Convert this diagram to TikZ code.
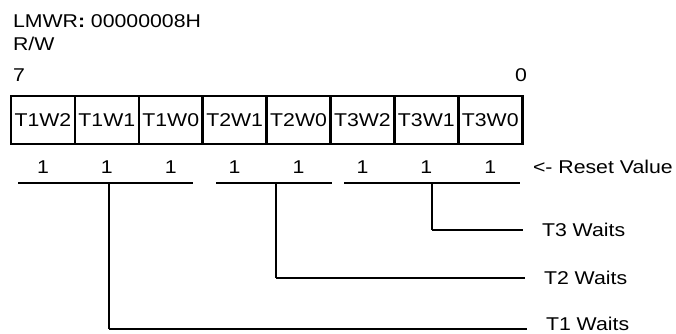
\documentclass[tikz,border=0pt]{standalone}
\usepackage{fontspec}
\setmainfont{Liberation Sans}
\usetikzlibrary{positioning}
\newcommand{\stretched}[1]{\scalebox{1.15}[1]{#1}}

\begin{document}
\begin{tikzpicture}[x=1pt,y=-1pt,
    lbl/.style={font=\fontsize{18.5}{21}\selectfont, inner sep=0pt, outer sep=0pt},
    cell/.style={lbl, draw, line width=2.6pt, minimum width=63.9pt, minimum height=48pt, anchor=west},
    rst/.style={lbl, below=29pt of #1, anchor=base},
    wait/.style={lbl, anchor=west, inner xsep=19pt},
    bar/.style={line width=2pt},
    tick/.style={line width=1.3pt}]
    \useasboundingbox (0,0) rectangle (676,333);

    \node[lbl, anchor=base west] (reg) at (13,27) {\stretched{LMWR\textbf{:} 00000008H}};
    \node[lbl, anchor=base west] (acc) at (13,50) {\stretched{R/W}};
    \node[lbl, anchor=base west] (b7) at (13,81) {\stretched{7}};
    \node[lbl, anchor=base] (b0) at (521,81) {\stretched{0}};

    \node[cell] (c7) at (11,120) {\stretched{T1W2}};
    \node[cell, right=0pt of c7] (c6) {\stretched{T1W1}};
    \node[cell, right=0pt of c6] (c5) {\stretched{T1W0}};
    \node[cell, right=0pt of c5] (c4) {\stretched{T2W1}};
    \node[cell, right=0pt of c4] (c3) {\stretched{T2W0}};
    \node[cell, right=0pt of c3] (c2) {\stretched{T3W2}};
    \node[cell, right=0pt of c2] (c1) {\stretched{T3W1}};
    \node[cell, right=0pt of c1] (c0) {\stretched{T3W0}};

    \node[rst=c7] (r7) {\stretched{1}};
    \node[rst=c6] (r6) {\stretched{1}};
    \node[rst=c5] (r5) {\stretched{1}};
    \node[rst=c4] (r4) {\stretched{1}};
    \node[rst=c3] (r3) {\stretched{1}};
    \node[rst=c2] (r2) {\stretched{1}};
    \node[rst=c1] (r1) {\stretched{1}};
    \node[rst=c0] (r0) {\stretched{1}};
    \node[lbl, anchor=base west] (rv) at (533,173) {\stretched{<- Reset Value}};

    \coordinate (g1a) at (18,183);
    \coordinate (g1b) at (193,183);
    \coordinate (g2a) at (216,183);
    \coordinate (g2b) at (332,183);
    \coordinate (g3a) at (344,183);
    \coordinate (g3b) at (520,183);
    \draw[bar] (g1a) -- (g1b);
    \draw[bar] (g2a) -- (g2b);
    \draw[bar] (g3a) -- (g3b);

    \coordinate (v1) at (109,183);
    \coordinate (v2) at (276,183);
    \coordinate (v3) at (432,183);

    \node[wait] (w3) at (523,230) {\stretched{T3 Waits}};
    \node[wait] (w2) at (525,278) {\stretched{T2 Waits}};
    \node[wait] (w1) at (527,323.5) {\stretched{T1 Waits}};
    \coordinate (e1) at ([yshift=-5pt]w1.west);

    \draw[tick] (v3) -- (v3 |- w3.west);
    \draw[bar] (v3 |- w3.west) -- (w3.west);
    \draw[tick] (v2) -- (v2 |- w2.west);
    \draw[bar] (v2 |- w2.west) -- (w2.west);
    \draw[tick] (v1) -- (v1 |- e1);
    \draw[bar] (v1 |- e1) -- (e1);
\end{tikzpicture}
\end{document}
